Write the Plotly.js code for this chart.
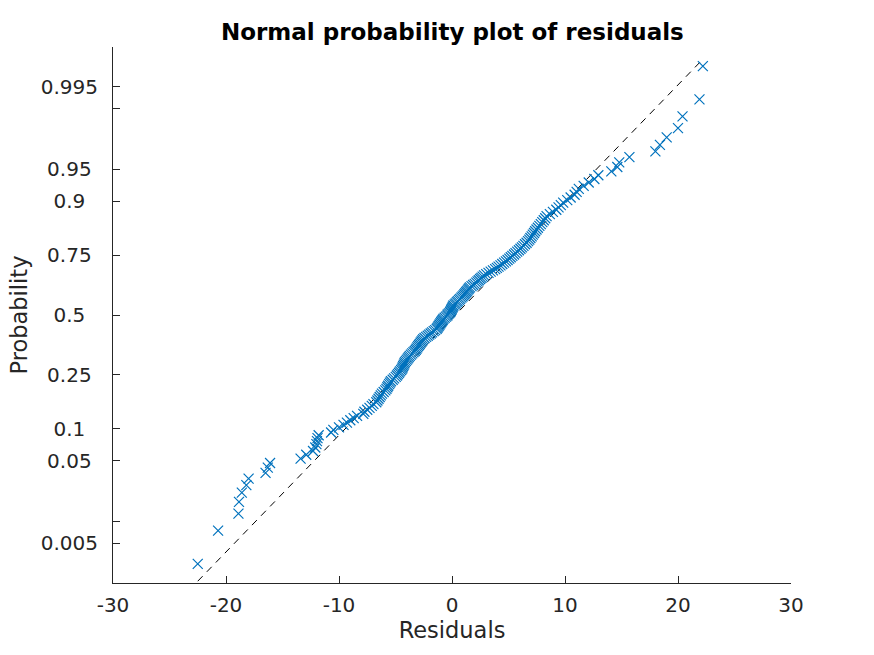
<!DOCTYPE html>
<html>
<head>
<meta charset="utf-8">
<script src="https://cdn.plot.ly/plotly-3.0.1.min.js"></script>
<style>html,body{margin:0;padding:0;background:#fff;}#chart{width:874px;height:655px;}</style>
</head>
<body>
<div id="chart"></div>
<script>
// Sorted residuals
var residuals = [
-22.5,-20.7,-18.9,-18.85,-18.6,-18.2,-18.0,-16.5,-16.3,-16.1,
-13.4,-12.9,-12.3,-12.1,-12.0,-11.95,-11.9,-11.8,-10.7,-10.5,
-10.0,-9.6,-9.3,-9.0,-8.7,-8.4,-7.85,-7.75,-7.5,-7.3,
-7.1,-6.95,-6.7,-6.6,-6.5,-6.4,-6.3,-6.2,-6.05,-5.9,
-5.8,-5.72,-5.65,-5.56,-5.49,-5.4,-5.25,-5.12,-4.98,-4.87,
-4.78,-4.69,-4.6,-4.5,-4.42,-4.37,-4.32,-4.26,-4.21,-4.16,
-4.08,-3.99,-3.9,-3.82,-3.74,-3.63,-3.52,-3.41,-3.3,-3.21,
-3.14,-3.07,-3.0,-2.92,-2.85,-2.78,-2.7,-2.62,-2.55,-2.43,
-2.29,-2.15,-2.02,-1.89,-1.76,-1.62,-1.49,-1.36,-1.29,-1.23,
-1.16,-1.1,-1.03,-0.96,-0.9,-0.83,-0.76,-0.65,-0.53,-0.42,
-0.37,-0.27,-0.17,-0.12,-0.07,-0.03,0.03,0.08,0.13,0.24,
0.33,0.43,0.52,0.62,0.72,0.83,0.93,1.02,1.1,1.18,
1.26,1.34,1.42,1.5,1.59,1.73,1.87,2.01,2.15,2.26,
2.37,2.49,2.6,2.71,2.84,3.03,3.23,3.42,3.62,3.82,
3.97,4.12,4.29,4.45,4.61,4.77,4.92,5.07,5.2,5.34,
5.49,5.62,5.77,5.92,6.06,6.19,6.32,6.46,6.6,6.73,
6.84,6.94,7.05,7.15,7.26,7.36,7.48,7.6,7.73,7.86,
7.99,8.12,8.25,8.37,8.66,8.93,9.23,9.43,9.63,9.84,
10.2,10.5,10.85,11.03,11.22,11.65,12.1,12.6,12.95,14.1,
14.63,14.8,15.7,18.0,18.4,19.0,20.0,20.4,21.9,22.2
];
var probTicks = [0.005, 0.01, 0.05, 0.1, 0.25, 0.5, 0.75, 0.9, 0.95, 0.99, 0.995];
var probTickLabels = ['0.005', '', '0.05', '0.1', '0.25', '0.5', '0.75', '0.9', '0.95', '', '0.995'];
var xTicks = [-30, -20, -10, 0, 10, 20, 30];

// inverse standard normal CDF (Acklam) - probability axis transform
function probit(p) {
  var a=[-3.969683028665376e+01,2.209460984245205e+02,-2.759285104469687e+02,1.383577518672690e+02,-3.066479806614716e+01,2.506628277459239e+00];
  var b=[-5.447609879822406e+01,1.615858368580409e+02,-1.556989798598866e+02,6.680131188771972e+01,-1.328068155288572e+01];
  var c=[-7.784894002430293e-03,-3.223964580411365e-01,-2.400758277161838e+00,-2.549732539343734e+00,4.374664141464968e+00,2.938163982698783e+00];
  var d=[7.784695709041462e-03,3.224671290700398e-01,2.445134137142996e+00,3.754408661907416e+00];
  var pl=0.02425, q, r;
  if (p < pl) { q=Math.sqrt(-2*Math.log(p)); return (((((c[0]*q+c[1])*q+c[2])*q+c[3])*q+c[4])*q+c[5])/((((d[0]*q+d[1])*q+d[2])*q+d[3])*q+1); }
  if (p > 1-pl) { q=Math.sqrt(-2*Math.log(1-p)); return -(((((c[0]*q+c[1])*q+c[2])*q+c[3])*q+c[4])*q+c[5])/((((d[0]*q+d[1])*q+d[2])*q+d[3])*q+1); }
  q=p-0.5; r=q*q;
  return (((((a[0]*r+a[1])*r+a[2])*r+a[3])*r+a[4])*r+a[5])*q/(((((b[0]*r+b[1])*r+b[2])*r+b[3])*r+b[4])*r+1);
}

var n = residuals.length;
var zs = residuals.map(function(v, i){ return probit((i + 0.5) / n); });

// reference line through quartiles
function pct(p) {
  var pos = n * p + 0.5 - 1; var lo = Math.floor(pos), f = pos - lo;
  return residuals[lo] + f * (residuals[lo + 1] - residuals[lo]);
}
var q1 = pct(0.25), q3 = pct(0.75);
var zq1 = probit(0.25), zq3 = probit(0.75);
var slope = (zq3 - zq1) / (q3 - q1);
var xmin = residuals[0], xmax = residuals[n - 1];
var lineX = [xmin, xmax];
var lineY = lineX.map(function(x){ return zq1 + slope * (x - q1); });
var zlim = probit(0.25 / n);

// labels are centred in the reference: pad shorter ones with trailing no-break spaces
var maxLen = 5;
var paddedLabels = probTickLabels.map(function(s){
  if (!s) return s;
  var pad = maxLen - s.length; var out = s;
  for (var k = 0; k < pad; k++) out += '\u00A0';
  return out;
});

var font = "'DejaVu Sans', 'Liberation Sans', sans-serif";
var traces = [
  {x: lineX, y: lineY, type: 'scatter', mode: 'lines', line: {color: '#000', width: 1, dash: '7px,6px'}, hoverinfo: 'skip'},
  {x: residuals, y: zs, type: 'scatter', mode: 'markers',
   marker: {symbol: 'x-thin', size: 10, color: '#0072BD', line: {color: '#0072BD', width: 1.2}}}
];
var layout = {
  width: 874, height: 655,
  margin: {l: 113, r: 83, t: 47, b: 72},
  paper_bgcolor: '#fff', plot_bgcolor: '#fff',
  showlegend: false,
  font: {family: font, color: '#262626', size: 20},
  title: {text: '<b>Normal probability plot of residuals</b>', font: {family: font, size: 23, color: '#000'}, x: 0.5176, xanchor: 'center', y: 0.951, yanchor: 'middle'},
  xaxis: {range: [-30, 30], tickvals: xTicks, ticktext: xTicks.map(String), ticks: 'inside', ticklen: 7, tickcolor: '#262626', tickwidth: 1,
          showline: true, linecolor: '#262626', linewidth: 1, showgrid: false, zeroline: false, ticklabelstandoff: 4,
          tickfont: {size: 20, color: '#262626'},
          title: {text: 'Residuals', font: {size: 22.5, color: '#262626'}, standoff: 5}},
  yaxis: {range: [zlim, -zlim], tickvals: probTicks.map(probit), ticktext: paddedLabels, ticks: 'inside', ticklen: 7, tickcolor: '#262626', tickwidth: 1,
          showline: true, linecolor: '#262626', linewidth: 1, showgrid: false, zeroline: false, ticklabelstandoff: 10,
          tickfont: {size: 20, color: '#262626'},
          title: {text: 'Probability', font: {size: 22.5, color: '#262626'}, standoff: 6}}
};
Plotly.newPlot('chart', traces, layout, {displayModeBar: false, staticPlot: true});
</script>
</body>
</html>
